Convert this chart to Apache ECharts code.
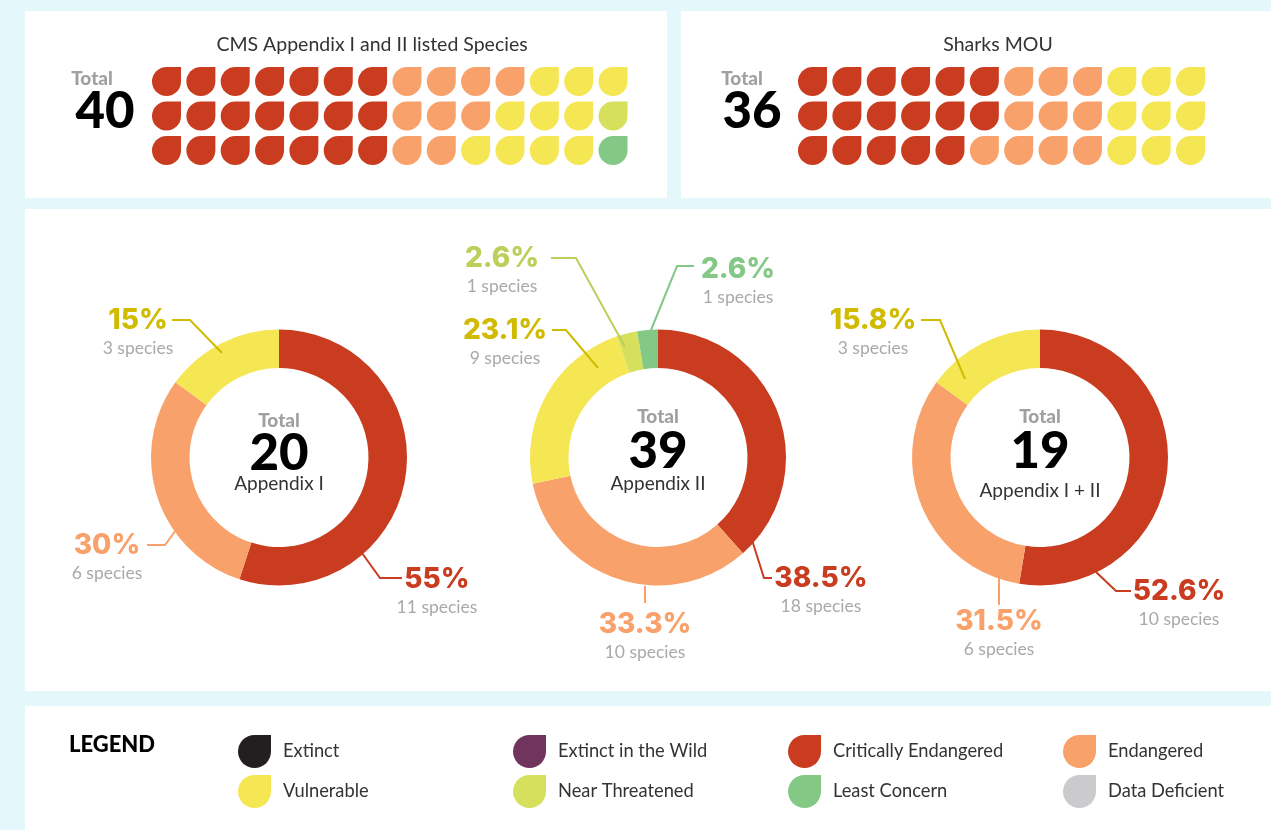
<!DOCTYPE html>
<html>
<head>
<meta charset="utf-8">
<title>CMS species status</title>
<script src="https://cdn.jsdelivr.net/npm/echarts@6/dist/echarts.min.js"></script>
<style>
	html, body { margin: 0; padding: 0; background: #e4f7fa; }
	#main { width: 1271px; height: 830px; }
</style>
</head>
<body>
<div id="main"></div>
<script>
// status names and colours
var statusColors = {
	'Extinct': '#231f20',
	'Extinct in the Wild': '#71345f',
	'Critically Endangered': '#c93c1f',
	'Endangered': '#f9a16a',
	'Vulnerable': '#f5e653',
	'Near Threatened': '#d7e05c',
	'Least Concern': '#83c885',
	'Data Deficient': '#cbcbce'
};
var legendColumn1 = ['Extinct', 'Vulnerable'];
var legendColumn2 = ['Extinct in the Wild', 'Near Threatened'];
var legendColumn3 = ['Critically Endangered', 'Least Concern'];
var legendColumn4 = ['Endangered', 'Data Deficient'];

// waffles, one code per drop
var CR = 'Critically Endangered', EN = 'Endangered', VU = 'Vulnerable', NT = 'Near Threatened', LC = 'Least Concern';
var cmsRows = [
	[CR, CR, CR, CR, CR, CR, CR, EN, EN, EN, EN, VU, VU, VU],
	[CR, CR, CR, CR, CR, CR, CR, EN, EN, EN, VU, VU, VU, NT],
	[CR, CR, CR, CR, CR, CR, CR, EN, EN, VU, VU, VU, VU, LC]
];
var sharksRows = [
	[CR, CR, CR, CR, CR, CR, EN, EN, EN, VU, VU, VU],
	[CR, CR, CR, CR, CR, CR, EN, EN, EN, VU, VU, VU],
	[CR, CR, CR, CR, CR, EN, EN, EN, EN, VU, VU, VU]
];

// donuts: slice sizes as drawn, label text as printed
var appendix1Status = [CR, EN, VU];
var appendix1Values = [55, 30, 15];
var appendix1Percent = ['55%', '30%', '15%'];
var appendix1Species = ['11 species', '6 species', '3 species'];
var appendix2Status = [CR, EN, VU, NT, LC];
var appendix2Values = [38.5, 33.3, 23.1, 2.6, 2.6];
var appendix2Percent = ['38.5%', '33.3%', '23.1%', '2.6%', '2.6%'];
var appendix2Species = ['18 species', '10 species', '9 species', '1 species', '1 species'];
var appendix12Status = [CR, EN, VU];
var appendix12Values = [52.6, 32.4, 15];
var appendix12Percent = ['52.6%', '31.5%', '15.8%'];
var appendix12Species = ['10 species', '6 species', '3 species'];

var labelColors = {
	'Critically Endangered': '#c93c1f',
	'Endangered': '#f9a16a',
	'Vulnerable': '#d1bb00',
	'Near Threatened': '#bccf5b',
	'Least Concern': '#83c885'
};

// label centre and leader line for every slice, in page pixels
var donutLabels = [
	[
		{ x: 437, y: 579, line: [[402, 578], [380, 578], [362, 553]] },
		{ x: 107, y: 545, line: [[147, 545], [165, 545], [176, 530]] },
		{ x: 138, y: 320, line: [[172, 320], [190, 320], [222, 353]] }
	],
	[
		{ x: 821, y: 578, line: [[772, 578], [764, 578], [752, 540]] },
		{ x: 645, y: 624, line: [[645, 603], [645, 603], [645, 586]] },
		{ x: 505, y: 330, line: [[552, 330], [566, 330], [598, 368]] },
		{ x: 502, y: 258, line: [[551, 258], [576, 258], [625, 347]] },
		{ x: 738, y: 269, line: [[694, 266], [677, 266], [651, 330]] }
	],
	[
		{ x: 1179, y: 591, line: [[1131, 591], [1116, 591], [1096, 572]] },
		{ x: 999, y: 621, line: [[999, 605], [999, 605], [999, 578]] },
		{ x: 873, y: 320, line: [[921, 320], [940, 320], [965, 379]] }
	]
];

var dropPath = 'path://M50 0L100 0L100 50A50 50 0 0 1 50 100A50 50 0 0 1 0 50A50 50 0 0 1 50 0Z';
var fontName = 'Lato, sans-serif';
var heavyFont = 'Inter, sans-serif';

function waffleSeries(rows, gridIndex) {
	var points = [];
	rows.forEach(function (row, y) {
		row.forEach(function (status, x) {
			points.push({ value: [x, y], itemStyle: { color: statusColors[status], opacity: 1 } });
		});
	});
	return {
		type: 'scatter',
		xAxisIndex: gridIndex,
		yAxisIndex: gridIndex,
		symbol: dropPath,
		symbolSize: 29,
		symbolKeepAspect: true,
		silent: true,
		clip: false,
		data: points
	};
}

function donutRing(cx, status, values) {
	return {
		type: 'pie',
		z: 2,
		center: [cx, 457.5],
		radius: [89.5, 128],
		startAngle: 90,
		silent: true,
		label: { show: false },
		labelLine: { show: false },
		data: values.map(function (v, i) {
			return { name: status[i], value: v, itemStyle: { color: statusColors[status[i]] } };
		})
	};
}

// same slices again with no fill, so the leader lines sit on top of the ring
function donutLabelLayer(cx, status, values, percent, species, index) {
	return {
		type: 'pie',
		z: 3,
		center: [cx, 457.5],
		radius: [89.5, 128],
		startAngle: 90,
		silent: true,
		avoidLabelOverlap: false,
		itemStyle: { color: 'rgba(0,0,0,0)' },
		label: {
			show: true,
			align: 'center',
			verticalAlign: 'middle',
			rich: {
				p: { fontFamily: heavyFont, fontWeight: 800, fontSize: 28, lineHeight: 28, align: 'center' },
				s: { fontFamily: fontName, fontSize: 17.5, lineHeight: 26, color: '#a9a9ac', align: 'center' }
			}
		},
		labelLine: { show: true, lineStyle: { width: 2 } },
		labelLayout: function (params) {
			var spot = donutLabels[index][params.dataIndex];
			return {
				x: spot.x,
				y: spot.y + 14,
				align: 'center',
				verticalAlign: 'middle',
				labelLinePoints: spot.line
			};
		},
		data: values.map(function (v, i) {
			var color = labelColors[status[i]];
			return {
				name: status[i],
				value: v,
				label: {
					formatter: '{p|' + percent[i] + '}\n{s|' + species[i] + '}',
					rich: { p: { color: color } }
				},
				labelLine: { lineStyle: { color: color } }
			};
		})
	};
}

function legendOnlySeries() {
	return Object.keys(statusColors).map(function (name) {
		return {
			type: 'scatter',
			name: name,
			xAxisIndex: 0,
			yAxisIndex: 0,
			data: [],
			itemStyle: { color: statusColors[name], opacity: 1 }
		};
	});
}

function legendColumn(names, left) {
	return {
		orient: 'vertical',
		left: left,
		top: 735,
		padding: 0,
		selectedMode: false,
		itemWidth: 33,
		itemHeight: 33,
		itemGap: 7,
		icon: dropPath,
		data: names,
		textStyle: { fontFamily: fontName, fontSize: 18.3, color: '#333', padding: [0, 0, 0, 7] }
	};
}

function panel(x, y, w, h) {
	return { type: 'rect', z: -10, silent: true, shape: { x: x, y: y, width: w, height: h }, style: { fill: '#fff' } };
}

function text(str, x, y, font, color, align) {
	return {
		type: 'text',
		x: x,
		y: y,
		silent: true,
		style: {
			text: str,
			fill: color,
			font: font,
			textAlign: align || 'center',
			textVerticalAlign: 'middle'
		}
	};
}

var headFont = '400 19.5px ' + fontName;
var totalFont = '900 19px ' + fontName;
var bigFont = '900 51px ' + fontName;
var nameFont = '400 19px ' + fontName;

var option = {
	backgroundColor: '#e4f7fa',
	animation: false,
	legend: [
		legendColumn(legendColumn1, 238),
		legendColumn(legendColumn2, 513),
		legendColumn(legendColumn3, 788),
		legendColumn(legendColumn4, 1063)
	],
	grid: [
		{ left: 166.5, top: 81.5, width: 446.5, height: 69 },
		{ left: 812.5, top: 81.5, width: 378, height: 69 }
	],
	xAxis: [
		{ type: 'value', show: false, min: 0, max: 13 },
		{ type: 'value', show: false, min: 0, max: 11, gridIndex: 1 }
	],
	yAxis: [
		{ type: 'value', show: false, min: 0, max: 2, inverse: true },
		{ type: 'value', show: false, min: 0, max: 2, inverse: true, gridIndex: 1 }
	],
	graphic: {
		elements: [
			panel(25, 11, 642, 187),
			panel(681, 11, 590, 187),
			panel(25, 209, 1246, 482),
			panel(25, 706, 1246, 124),
			text('CMS Appendix I and II listed Species', 372, 45, headFont, '#333'),
			text('Sharks MOU', 998, 45, headFont, '#333'),
			text('Total', 92, 79, totalFont, '#a0a0a3'),
			text('40', 105, 112, bigFont, '#000'),
			text('Total', 742, 79, totalFont, '#a0a0a3'),
			text('36', 752, 112, bigFont, '#000'),
			text('Total', 279, 421, totalFont, '#a0a0a3'),
			text('20', 279, 454, bigFont, '#000'),
			text('Appendix I', 279, 484, nameFont, '#333'),
			text('Total', 658, 417, totalFont, '#a0a0a3'),
			text('39', 658, 452, bigFont, '#000'),
			text('Appendix II', 658, 484, nameFont, '#333'),
			text('Total', 1040, 417, totalFont, '#a0a0a3'),
			text('19', 1040, 452, bigFont, '#000'),
			text('Appendix I + II', 1040, 491, nameFont, '#333'),
			text('LEGEND', 69, 745, '900 22px ' + fontName, '#000', 'left')
		]
	},
	series: [
		waffleSeries(cmsRows, 0),
		waffleSeries(sharksRows, 1),
		donutRing(279, appendix1Status, appendix1Values),
		donutRing(658, appendix2Status, appendix2Values),
		donutRing(1040, appendix12Status, appendix12Values),
		donutLabelLayer(279, appendix1Status, appendix1Values, appendix1Percent, appendix1Species, 0),
		donutLabelLayer(658, appendix2Status, appendix2Values, appendix2Percent, appendix2Species, 1),
		donutLabelLayer(1040, appendix12Status, appendix12Values, appendix12Percent, appendix12Species, 2)
	].concat(legendOnlySeries())
};

var myChart = echarts.init(document.getElementById('main'));
myChart.setOption(option);
</script>
</body>
</html>
